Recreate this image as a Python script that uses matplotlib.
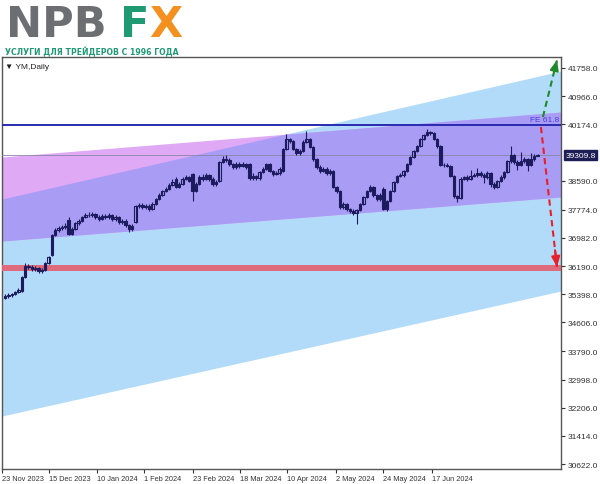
########################################################
# Required Python Packages
########################################################

import numpy as np
import matplotlib
matplotlib.use("Agg")
import matplotlib.pyplot as plt

########################################################
# Chart Data (YM, Daily)
########################################################

opens = [35300, 35346, 35374, 35403, 35459, 35487, 35881, 36190, 36162, 36105,
         36134, 36049, 36077, 36274, 36499, 37062, 37202, 37258, 37287, 37484,
         37090, 37230, 37399, 37455, 37568, 37624, 37630, 37652, 37568, 37511,
         37596, 37568, 37624, 37511, 37568, 37427, 37455, 37343, 37230, 37427,
         37877, 37905, 37849, 37877, 37793, 37933, 38074, 38186, 38299, 38355,
         38468, 38636, 38412, 38496, 38636, 38693, 38777, 38299, 38496, 38693,
         38636, 38749, 38636, 38496, 38580, 39114, 39198, 39170, 39058, 38974,
         39058, 39002, 39058, 39058, 38664, 38720, 38664, 38833, 38917, 39058,
         38861, 38777, 38805, 38861, 39480, 39761, 39704, 39480, 39367, 39424,
         39676, 39761, 39536, 39198, 38974, 38861, 38917, 38805, 38861, 38412,
         38299, 37849, 37933, 37793, 37737, 37680, 37765, 37933, 38130, 38299,
         38412, 38186, 38074, 38355, 37793, 38018, 38299, 38552, 38721, 38749,
         38861, 39058, 39255, 39424, 39564, 39761, 39874, 39958, 39930, 39761,
         39564, 39030, 39030, 39002, 38721, 38158, 38102, 38636, 38693, 38636,
         38721, 38749, 38805, 38749, 38693, 38805, 38496, 38412, 38580, 38693,
         38833, 39142, 39311, 39114, 39030, 39142, 39198, 39030, 39198, 39283]

highs = [35400, 35420, 35440, 35500, 35560, 35920, 36274, 36240, 36210, 36200,
         36170, 36130, 36300, 36480, 37100, 37260, 37310, 37340, 37400, 37570,
         37280, 37430, 37500, 37600, 37680, 37700, 37720, 37690, 37620, 37640,
         37650, 37680, 37660, 37620, 37610, 37520, 37500, 37380, 37360, 37910,
         37960, 37950, 37930, 37920, 37980, 38110, 38230, 38340, 38400, 38510,
         38640, 38680, 38540, 38680, 38740, 38730, 38800, 38540, 38740, 38770,
         38800, 38790, 38680, 38600, 39150, 39280, 39300, 39220, 39100, 39110,
         39120, 39110, 39100, 39090, 38800, 38760, 38870, 38960, 39100, 39100,
         38900, 38860, 38960, 39520, 39902, 39800, 39740, 39520, 39480, 39720,
         39990, 39800, 39560, 39240, 39020, 38970, 38960, 38910, 38890, 38450,
         38330, 37990, 37970, 37830, 37780, 37800, 37970, 38170, 38340, 38460,
         38450, 38220, 38230, 38400, 38060, 38330, 38590, 38760, 38800, 38900,
         39090, 39290, 39460, 39600, 39800, 39910, 40040, 40000, 39960, 39800,
         39590, 39100, 39080, 39040, 38750, 38200, 38680, 38730, 38760, 38900,
         38800, 38950, 38860, 38800, 38850, 38840, 38560, 38620, 38740, 38870,
         39180, 39560, 39340, 39160, 39400, 39250, 39230, 39380, 39330, 39340]

lows = [35260, 35300, 35330, 35370, 35420, 35460, 35850, 36100, 36050, 36040,
        35990, 35980, 36050, 36240, 36480, 37030, 37150, 37200, 37240, 37060,
        37050, 37200, 37350, 37420, 37530, 37560, 37580, 37520, 37460, 37470,
        37500, 37520, 37460, 37450, 37380, 37380, 37290, 37150, 37170, 37400,
        37820, 37790, 37800, 37740, 37760, 37900, 38040, 38150, 38260, 38320,
        38430, 38380, 38370, 38460, 38600, 38540, 38018, 38260, 38460, 38590,
        38600, 38580, 38440, 38450, 38550, 39080, 39120, 39000, 38920, 38930,
        38950, 38960, 38920, 38620, 38600, 38600, 38620, 38800, 38880, 38820,
        38720, 38740, 38760, 38830, 39450, 39640, 39440, 39320, 39320, 39400,
        39640, 39500, 39150, 38920, 38800, 38820, 38760, 38760, 38380, 38240,
        37800, 37800, 37740, 37680, 37620, 37371, 37730, 37900, 38100, 38270,
        38140, 38020, 38020, 37760, 37750, 37990, 38260, 38520, 38680, 38700,
        38830, 39020, 39220, 39390, 39530, 39730, 39840, 39880, 39720, 39520,
        38990, 38980, 38960, 38680, 38100, 38000, 38070, 38600, 38590, 38600,
        38680, 38700, 38700, 38520, 38650, 38420, 38360, 38380, 38540, 38650,
        38800, 39100, 39060, 38900, 38990, 39100, 38850, 38990, 39150, 39270]

closes = [35346, 35374, 35403, 35459, 35515, 35881, 36190, 36162, 36105, 36134,
          36049, 36077, 36274, 36443, 37062, 37202, 37258, 37287, 37315, 37090,
          37230, 37399, 37455, 37568, 37624, 37630, 37652, 37568, 37511, 37596,
          37568, 37624, 37511, 37568, 37427, 37455, 37343, 37230, 37315, 37877,
          37905, 37849, 37877, 37793, 37933, 38074, 38186, 38299, 38355, 38468,
          38552, 38412, 38496, 38636, 38693, 38580, 38299, 38496, 38693, 38636,
          38749, 38636, 38496, 38552, 39114, 39198, 39170, 39058, 38974, 39058,
          39002, 39058, 38974, 38664, 38720, 38664, 38833, 38917, 39058, 38861,
          38777, 38805, 38917, 39480, 39761, 39704, 39480, 39367, 39424, 39676,
          39761, 39536, 39198, 38974, 38861, 38917, 38805, 38861, 38412, 38299,
          37849, 37933, 37793, 37737, 37680, 37765, 37933, 38130, 38299, 38412,
          38186, 38074, 38186, 37793, 38018, 38299, 38552, 38721, 38749, 38861,
          39058, 39255, 39424, 39564, 39761, 39874, 39958, 39930, 39761, 39564,
          39030, 39030, 39002, 38721, 38158, 38102, 38636, 38693, 38636, 38721,
          38749, 38805, 38749, 38693, 38805, 38496, 38412, 38580, 38693, 38833,
          39142, 39311, 39114, 39030, 39142, 39198, 39030, 39198, 39283, 39309.8]

# Date labels and the bar positions they sit on
date_labels = ["23 Nov 2023", "15 Dec 2023", "10 Jan 2024", "1 Feb 2024",
               "23 Feb 2024", "18 Mar 2024", "10 Apr 2024", "2 May 2024",
               "24 May 2024", "17 Jun 2024"]
date_pos = [-0.9, 13.1, 27.5, 41.5, 56.1, 70.1, 84.2, 98.8, 112.8, 127.5]

# Price scale labels
price_ticks = [41758, 40966, 40174, 38590, 37774, 36982, 36190,
               35398, 34606, 33790, 32998, 32206, 31414, 30622]

# Channel objects: anchors at the left and right edge of the chart
chan_x = [-0.9, 166]
blue_top = [38074, 41673]
blue_bot = [31972, 35487]
pink_top = [39255, 40520]
pink_bot = [36893, 38130]

# Horizontal levels
fe_level = 40155
support_level = 36130
last_price = 39309.8

# Target arrows (start -> end)
up_arrow = [(160.6, 40380), (164.8, 41980)]
down_arrow = [(160.0, 40099), (164.8, 36162)]

########################################################
# Styles
########################################################

CANDLE = "#1b1b5e"
BLUE = "#b2dbfa"
PINK = "#dfa9f6"
PURPLE = "#a99cf5"
FONT = ["Liberation Sans", "DejaVu Sans"]
Y_RANGE = (30482, 42067)


########################################################
# Draw Channels
########################################################

def Draw_Channels(ax):
    xs = np.linspace(chan_x[0], chan_x[1], 300)
    b_hi = np.interp(xs, chan_x, blue_top)
    b_lo = np.interp(xs, chan_x, blue_bot)
    p_hi = np.interp(xs, chan_x, pink_top)
    p_lo = np.interp(xs, chan_x, pink_bot)

    ax.fill_between(xs, b_lo, b_hi, color=BLUE, lw=0, zorder=1)
    ax.fill_between(xs, p_lo, p_hi, color=PINK, lw=0, zorder=1)
    lo = np.maximum(b_lo, p_lo)
    hi = np.minimum(b_hi, p_hi)
    ax.fill_between(xs, lo, hi, where=hi > lo, color=PURPLE, lw=0, zorder=2)


########################################################
# Draw Candles
########################################################

def Draw_Candles(ax):
    idx = np.arange(len(closes))
    o = np.array(opens, dtype=float)
    c = np.array(closes, dtype=float)
    ax.vlines(idx, lows, highs, color=CANDLE, lw=0.8, zorder=4)
    bull = c >= o
    bear = ~bull
    ax.bar(idx[bull], c[bull] - o[bull], bottom=o[bull], width=0.72,
           facecolor="none", edgecolor=CANDLE, lw=0.8, zorder=5)
    ax.bar(idx[bear], c[bear] - o[bear], bottom=o[bear], width=0.72,
           facecolor=CANDLE, edgecolor=CANDLE, lw=0.8, zorder=5)


########################################################
# Main Execution
########################################################

def main():
    fig = plt.figure(figsize=(6, 4.85), dpi=100)
    ax = fig.add_axes([2 / 600, 1 - 470 / 485, 559 / 600, 412 / 485])

    Draw_Channels(ax)

    ax.axhline(fe_level, color="#2a2ab0", lw=1.4, zorder=3)
    ax.axhline(last_price, color="#8a86a8", lw=0.6, zorder=3)
    ax.axhline(support_level, color="#de6a7c", lw=4.3, zorder=3)

    Draw_Candles(ax)

    # Dashed target arrows
    for (s, e), col in [(up_arrow, "#1f8a2a"), (down_arrow, "#e8202a")]:
        ax.plot([s[0], e[0]], [s[1], e[1]], ls=(0, (3, 2)), color=col,
                lw=1.5, zorder=6, solid_capstyle="butt")
        k = 0.88
        mid = (s[0] + (e[0] - s[0]) * k, s[1] + (e[1] - s[1]) * k)
        ax.annotate("", xy=e, xytext=mid, zorder=7,
                    arrowprops=dict(arrowstyle="-|>,head_width=0.25,head_length=0.6",
                                    color=col, lw=1.5, shrinkA=0, shrinkB=0))

    ax.text(165.6, fe_level + 60, "FE 61.8", color="#4a3ee0", fontsize=6,
            family=FONT, ha="right", va="bottom", zorder=8)

    ax.set_xlim(chan_x[0], chan_x[1])
    ax.set_ylim(*Y_RANGE)

    ax.yaxis.tick_right()
    ax.set_yticks(price_ticks)
    ax.set_yticklabels([f"{v:.1f}" for v in price_ticks], family=FONT)
    ax.set_xticks(date_pos)
    ax.set_xticklabels(date_labels, family=FONT, ha="left")
    ax.tick_params(axis="y", length=3, width=0.8, pad=2, labelsize=6,
                   colors="#333333")
    ax.tick_params(axis="x", length=3, width=0.8, pad=1.5, labelsize=5.3,
                   colors="#333333")
    for sp in ax.spines.values():
        sp.set_color("#555555")
        sp.set_linewidth(1.0)

    # Last price tag on the scale
    ax.text(1.008, (last_price - Y_RANGE[0]) / (Y_RANGE[1] - Y_RANGE[0]),
            f"{last_price:.1f}", transform=ax.transAxes, fontsize=6,
            family=FONT, color="white", va="center", ha="left", zorder=9,
            bbox=dict(boxstyle="square,pad=0.15", fc="#1e1e56", ec="#1e1e56"))

    ax.text(0.006, 0.985, "\u25bc YM,Daily", transform=ax.transAxes,
            fontsize=6, family=FONT, color="#222222", va="top", ha="left")

    # NPBFX logo
    fig.text(6 / 600, 1 - 37 / 485, "NPB", fontsize=31, fontweight="bold",
             color="#6d6e71", family="DejaVu Sans", va="baseline")
    fig.text(120 / 600, 1 - 37 / 485, "F", fontsize=31, fontweight="bold",
             color="#1f9a72", family="DejaVu Sans", va="baseline")
    fig.text(149 / 600, 1 - 37 / 485, "X", fontsize=31, fontweight="bold",
             color="#f39020", family="DejaVu Sans", va="baseline")
    fig.text(5 / 600, 1 - 55 / 485, "УСЛУГИ ДЛЯ ТРЕЙДЕРОВ С 1996 ГОДА",
             fontsize=5.6, fontweight="bold", color="#1f9a72",
             family="DejaVu Sans", va="baseline")

    fig.savefig("out.png", dpi=100)


########################################################
# Run Main
########################################################

if __name__ == "__main__":
    main()
